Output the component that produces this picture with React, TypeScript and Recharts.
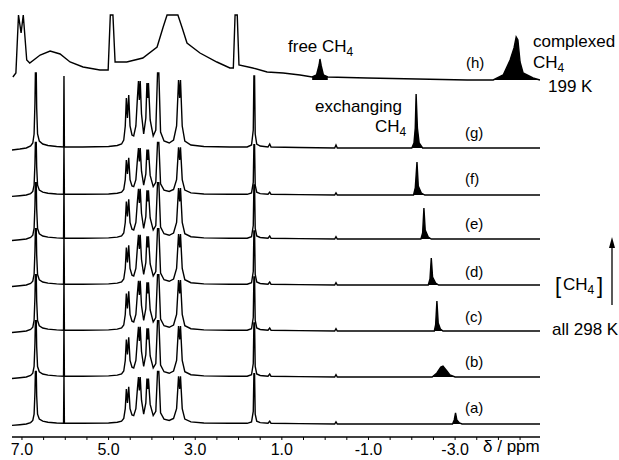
import React from "react";
import { ComposedChart, Line, Area, XAxis, YAxis } from "recharts";

type Pt = [number, number];

// 298 K spectra (a)-(g): baseline offsets (chart units) and vertical scale
const traceNames = ["(a)", "(b)", "(c)", "(d)", "(e)", "(f)", "(g)"];
const traceOffsets = [13, 60, 106, 152, 198, 242, 289];
const traceScales = [0.7, 0.75, 0.75, 0.75, 0.75, 0.7, 1.0];
const labelBaselines = [413, 367, 322, 277, 229, 184, 138];

// host signals, identical in every 298 K spectrum: [ppm, intensity]
const hostSpectrum: Pt[] = [
  [7.23, -2], [7.05, -1], [6.9, 0], [6.8, 2], [6.75, 5], [6.72, 14], [6.7, 45],
  [6.69, 75], [6.67, 75], [6.66, 40], [6.64, 14], [6.6, 7], [6.52, 4], [6.4, 2.5],
  [6.2, 1.5], [6.04, 1], [6.03, 72], [6.02, 1], [5.6, 1], [5.0, 1.5], [4.8, 2.5],
  [4.7, 4], [4.65, 8], [4.615, 22], [4.59, 50], [4.565, 30], [4.535, 53], [4.505, 22],
  [4.46, 13], [4.42, 12], [4.37, 22], [4.335, 50], [4.31, 67], [4.29, 48], [4.27, 67],
  [4.24, 34], [4.19, 14], [4.14, 30], [4.115, 65], [4.095, 50], [4.08, 65], [4.04, 28],
  [3.97, 12], [3.91, 18], [3.87, 75], [3.84, 75], [3.8, 16], [3.72, 7], [3.6, 5],
  [3.5, 8], [3.43, 22], [3.385, 68], [3.36, 50], [3.34, 68], [3.3, 22], [3.24, 7],
  [3.1, 3], [2.8, 1.5], [2.2, 1], [1.8, 1], [1.7, 3], [1.66, 18], [1.645, 72],
  [1.63, 72], [1.615, 14], [1.58, 4], [1.5, 2], [1.32, 1], [1.28, 4], [1.25, 1],
  [0.6, 0.5], [-0.22, 0], [-0.25, 3], [-0.28, 0], [-1.5, 0], [-4.96, 0],
];

// exchanging CH4 signal of each 298 K spectrum (already in chart units)
const methanePeaks: Pt[][] = [
  [[-2.94, 0], [-2.98, 4], [-3.01, 11], [-3.04, 4], [-3.1, 1], [-3.16, 0]],
  [[-2.47, 0], [-2.58, 4], [-2.67, 10], [-2.72, 11], [-2.81, 6], [-2.88, 2], [-3.0, 0]],
  [[-2.52, 0], [-2.55, 6], [-2.58, 30], [-2.61, 8], [-2.66, 2], [-2.72, 0]],
  [[-2.38, 0], [-2.42, 6], [-2.45, 27], [-2.48, 8], [-2.55, 2], [-2.62, 0]],
  [[-2.21, 0], [-2.25, 6], [-2.28, 31], [-2.31, 9], [-2.38, 2], [-2.45, 0]],
  [[-2.04, 0], [-2.08, 7], [-2.12, 33], [-2.15, 9], [-2.22, 2], [-2.3, 0]],
  [[-2.0, 0], [-2.05, 5], [-2.08, 20], [-2.1, 54], [-2.13, 20], [-2.17, 5], [-2.25, 0]],
];

// 199 K spectrum (h)
const lowTOffset = 357;
const lowTSpectrum: Pt[] = [
  [7.21, 3], [7.14, 7], [7.08, 65], [7.02, 47], [6.97, 65], [6.89, 20], [6.82, 17],
  [6.58, 25], [6.35, 29], [6.12, 26], [5.89, 18], [5.59, 13], [5.2, 10], [5.01, 10],
  [4.96, 65], [4.9, 65], [4.85, 18], [4.58, 18], [4.21, 22], [3.88, 33], [3.74, 53],
  [3.65, 65], [3.4, 65], [3.3, 52], [3.19, 37], [2.89, 27], [2.5, 18], [2.2, 12],
  [2.12, 12], [2.08, 65], [2.03, 65], [1.99, 15], [1.67, 12], [1.34, 8], [0.97, 7],
  [0.58, 5], [0.3, 3], [0.2, 5], [0.14, 15], [0.12, 21], [0.09, 14], [0.04, 5],
  [-0.06, 3], [-0.97, 2], [-3.28, 0], [-3.88, 0], [-4.11, 5], [-4.27, 20], [-4.36, 32],
  [-4.41, 43], [-4.45, 40], [-4.5, 18], [-4.57, 7], [-4.8, 2], [-4.96, 0],
];
const freeMethaneRange = [0.3, -0.06];
const complexedRange = [-3.88, -4.96];

const axisTicks = [7, 6.5, 6, 5.5, 5, 4.5, 4, 3.5, 3, 2.5, 2, 1.5, 1, 0.5, 0, -0.5, -1, -1.5, -2, -2.5, -3, -3.5, -4, -4.5];
const labelledTicks = [7, 5, 3, 1, -1, -3];

const FONT = "'Liberation Sans', Arial, sans-serif";

function buildTrace(i: number) {
  const peak = methanePeaks[i];
  const hi = peak[0][0];
  const lo = peak[peak.length - 1][0];
  const host = hostSpectrum
    .filter(([p]) => p > hi || p < lo)
    .map(([p, v]) => ({ x: p, y: traceOffsets[i] + v * traceScales[i] }));
  const ch4 = peak.map(([p, v]) => ({ x: p, y: traceOffsets[i] + v }));
  return [...host, ...ch4].sort((a, b) => b.x - a.x);
}

function fillData(points: Pt[], base: number, range: number[]) {
  return points
    .filter(([p]) => p <= range[0] && p >= range[1])
    .map(([p, v]) => ({ x: p, y: [base, base + v] }));
}

function XTick(props: any) {
  const { x, y, payload } = props;
  if (!labelledTicks.some((t) => Math.abs(t - payload.value) < 1e-6)) return <g />;
  return (
    <text x={x} y={y + 13} textAnchor="middle" fontSize={16} fontFamily={FONT} fill="#000">
      {payload.value.toFixed(1)}
    </text>
  );
}

const Sub = ({ children }: { children: string }) => (
  <tspan fontSize={12} dy={4}>{children}</tspan>
);

export default function App() {
  const lowT = lowTSpectrum.map(([p, v]) => ({ x: p, y: lowTOffset + v }));
  return (
    <div style={{ position: "absolute", left: 0, top: 0, width: 619, height: 460, background: "#fff" }}>
      <ComposedChart width={619} height={460} margin={{ top: 0, right: 79, bottom: 0, left: 12 }}>
        <XAxis
          dataKey="x"
          type="number"
          domain={[-4.96, 7.23]}
          reversed
          allowDataOverflow
          ticks={axisTicks}
          interval={0}
          tickSize={3}
          height={23}
          axisLine={{ stroke: "#000", strokeWidth: 1.5 }}
          tickLine={{ stroke: "#000" }}
          tick={<XTick />}
        />
        <YAxis type="number" domain={[0, 437]} hide width={0} />

        {methanePeaks.map((pk, i) => (
          <Area
            key={"fill" + i}
            data={pk.map(([p, v]) => ({ x: p, y: [traceOffsets[i], traceOffsets[i] + v] }))}
            dataKey="y"
            type="linear"
            stroke="none"
            fill="#000"
            fillOpacity={1}
            isAnimationActive={false}
          />
        ))}
        <Area
          data={fillData(lowTSpectrum, lowTOffset, freeMethaneRange)}
          dataKey="y"
          type="linear"
          stroke="none"
          fill="#000"
          fillOpacity={1}
          isAnimationActive={false}
        />
        <Area
          data={fillData(lowTSpectrum, lowTOffset, complexedRange)}
          dataKey="y"
          type="linear"
          stroke="none"
          fill="#000"
          fillOpacity={1}
          isAnimationActive={false}
        />

        {traceNames.map((n, i) => (
          <Line
            key={n}
            data={buildTrace(i)}
            dataKey="y"
            type="linear"
            stroke="#000"
            strokeWidth={1.4}
            dot={false}
            isAnimationActive={false}
          />
        ))}
        <Line
          data={lowT}
          dataKey="y"
          type="linear"
          stroke="#000"
          strokeWidth={1.4}
          dot={false}
          isAnimationActive={false}
        />
      </ComposedChart>

      <svg
        width={619}
        height={460}
        style={{ position: "absolute", left: 0, top: 0, pointerEvents: "none" }}
        fontFamily={FONT}
        fill="#000"
      >
        {traceNames.map((n, i) => (
          <text key={n} x={465} y={labelBaselines[i]} fontSize={15}>{n}</text>
        ))}
        <text x={466} y={68} fontSize={15}>(h)</text>

        <text x={288} y={52} fontSize={17}>free CH<Sub>4</Sub></text>
        <text x={533} y={47} fontSize={17}>complexed</text>
        <text x={533} y={68} fontSize={17}>CH<Sub>4</Sub></text>
        <text x={548} y={92} fontSize={17}>199 K</text>
        <text x={315} y={112} fontSize={17}>exchanging</text>
        <text x={375} y={132} fontSize={17}>CH<Sub>4</Sub></text>

        <text x={555} y={293} fontSize={22}>[</text>
        <text x={563} y={290} fontSize={17}>CH<Sub>4</Sub></text>
        <text x={597} y={293} fontSize={22}>]</text>
        <line x1={612} y1={305} x2={612} y2={245} stroke="#000" strokeWidth={1.3} />
        <polygon points="612,237 609,248 615,248" />
        <text x={552} y={335} fontSize={17}>all 298 K</text>

        <text x={483} y={452} fontSize={17}>δ / ppm</text>
      </svg>
    </div>
  );
}
